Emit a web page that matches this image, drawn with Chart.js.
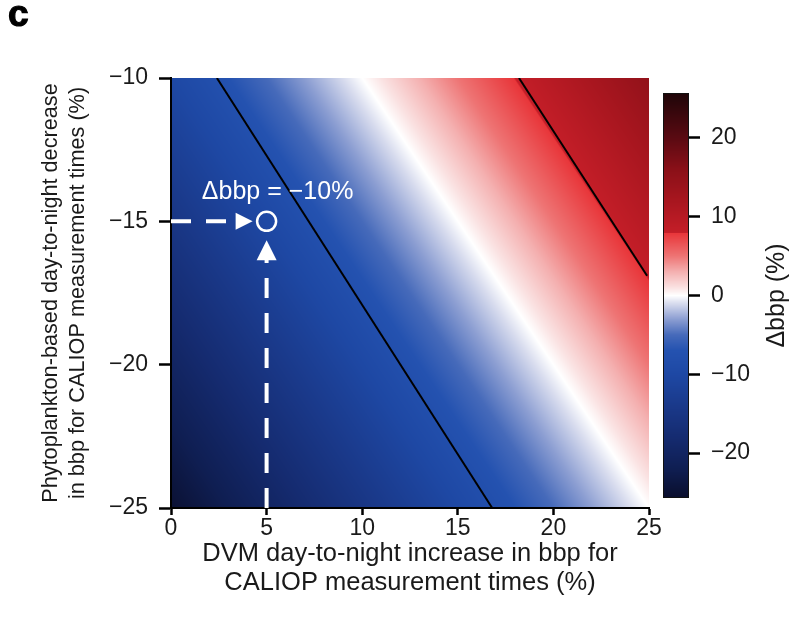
<!DOCTYPE html>
<html>
<head>
<meta charset="utf-8">
<script src="https://cdn.jsdelivr.net/npm/chart.js@4.4.1/dist/chart.umd.min.js"></script>
<style>
  body { margin: 0; background: #fff; }
  #wrap { position: relative; width: 798px; height: 623px; overflow: hidden; }
  #main { position: absolute; left: 0; top: 0; }
  #cbar { position: absolute; left: 650px; top: 0; }
  #panel { position: absolute; left: 8px; top: -7px; font: bold 37px "Liberation Sans", Arial, sans-serif;
           color: #000; -webkit-text-stroke: 1.2px #000; }
</style>
</head>
<body>
<div id="wrap">
  <canvas id="main" width="798" height="623"></canvas>
  <canvas id="cbar" width="148" height="623"></canvas>
  <div id="panel">c</div>
</div>
<script>
// axes
const dvmTicks = [0, 5, 10, 15, 20, 25];
const phytoTicks = [-10, -15, -20, -25];
const cbarTicks = [-20, -10, 0, 10, 20];

// Δbbp (%) on the grid nodes: rows follow phytoTicks, columns follow dvmTicks
const deltaBbp = [
  [-10, -5, 0, 5, 10, 15],
  [-15, -10, -5, 0, 5, 10],
  [-20, -15, -10, -5, 0, 5],
  [-25, -20, -15, -10, -5, 0]
];

// black contour lines
const lowLineDvm = [2.4, 16.8];
const lowLinePhyto = [-10, -25];
const highLineDvm = [18.2, 24.9];
const highLinePhyto = [-10, -16.9];

// highlighted example
const exampleDvm = 5;
const examplePhyto = -15;
const exampleText = 'Δbbp = −10%';

// diverging colour map (value -> rgb), with a step at +8
const cmapStops = [-25.7, -22, -18, -14, -10, -7, -5, -3, -1, 0, 1, 3, 5, 7.9, 8.0, 12, 16, 20, 25.7];
const cmapColors = [
  [10, 14, 44], [15, 30, 82], [21, 43, 112], [26, 57, 138], [30, 72, 164], [36, 82, 176],
  [70, 106, 186], [140, 158, 210], [216, 220, 238], [255, 255, 255], [250, 226, 226],
  [244, 176, 176], [238, 116, 116], [232, 54, 58], [196, 30, 40], [168, 22, 31],
  [138, 16, 24], [90, 10, 18], [30, 5, 8]
];

const FONT = '"Liberation Sans", Arial, Helvetica, sans-serif';
const INK = '#1a1a1a';

function colorFor(v) {
  if (v <= cmapStops[0]) return cmapColors[0];
  for (let k = 1; k < cmapStops.length; k++) {
    if (v <= cmapStops[k]) {
      const t = (v - cmapStops[k - 1]) / (cmapStops[k] - cmapStops[k - 1]);
      const a = cmapColors[k - 1], b = cmapColors[k];
      return [a[0] + (b[0] - a[0]) * t, a[1] + (b[1] - a[1]) * t, a[2] + (b[2] - a[2]) * t];
    }
  }
  return cmapColors[cmapColors.length - 1];
}

// bilinear lookup in the Δbbp table
function fieldAt(xv, yv) {
  let i = 0;
  while (i < dvmTicks.length - 2 && xv > dvmTicks[i + 1]) i++;
  let j = 0;
  while (j < phytoTicks.length - 2 && yv < phytoTicks[j + 1]) j++;
  const tx = (xv - dvmTicks[i]) / (dvmTicks[i + 1] - dvmTicks[i]);
  const ty = (yv - phytoTicks[j]) / (phytoTicks[j + 1] - phytoTicks[j]);
  const top = deltaBbp[j][i] + (deltaBbp[j][i + 1] - deltaBbp[j][i]) * tx;
  const bot = deltaBbp[j + 1][i] + (deltaBbp[j + 1][i + 1] - deltaBbp[j + 1][i]) * tx;
  return top + (bot - top) * ty;
}

const minus = v => String(v).replace('-', '\u2212');

const heatmap = {
  id: 'heatmap',
  beforeDraw(chart) {
    const { ctx, chartArea: a, scales: { x, y } } = chart;
    const left = Math.round(a.left), top = Math.round(a.top);
    const w = Math.round(a.right) - left, h = Math.round(a.bottom) - top;
    const img = ctx.createImageData(w, h);
    for (let j = 0; j < h; j++) {
      const yv = y.getValueForPixel(top + j + 0.5);
      for (let i = 0; i < w; i++) {
        const c = colorFor(fieldAt(x.getValueForPixel(left + i + 0.5), yv));
        const p = (j * w + i) * 4;
        img.data[p] = c[0]; img.data[p + 1] = c[1]; img.data[p + 2] = c[2]; img.data[p + 3] = 255;
      }
    }
    ctx.putImageData(img, left, top);
  }
};

// dashed arrows pointing at the example and its label
const arrows = {
  id: 'arrows',
  afterDatasetsDraw(chart) {
    const { ctx, chartArea: a, scales: { x, y } } = chart;
    const px = x.getPixelForValue(exampleDvm);
    const py = y.getPixelForValue(examplePhyto);
    ctx.save();
    ctx.strokeStyle = '#fff';
    ctx.fillStyle = '#fff';
    ctx.lineWidth = 4;
    ctx.setLineDash([20, 15]);
    // horizontal from the y axis
    ctx.beginPath();
    ctx.moveTo(a.left, py);
    ctx.lineTo(px - 30, py);
    ctx.stroke();
    // vertical from the x axis
    ctx.beginPath();
    ctx.moveTo(px, a.bottom);
    ctx.lineTo(px, py + 38);
    ctx.stroke();
    ctx.setLineDash([]);
    ctx.beginPath();
    ctx.moveTo(px - 14, py);
    ctx.lineTo(px - 31, py - 8.5);
    ctx.lineTo(px - 31, py + 8.5);
    ctx.closePath();
    ctx.fill();
    ctx.beginPath();
    ctx.moveTo(px, py + 19);
    ctx.lineTo(px - 10, py + 39);
    ctx.lineTo(px + 10, py + 39);
    ctx.closePath();
    ctx.fill();
    ctx.font = '25px ' + FONT;
    ctx.textAlign = 'center';
    ctx.textBaseline = 'alphabetic';
    ctx.fillText(exampleText, px + 11, py - 22);
    ctx.restore();
  }
};

const toPoints = (xs, ys) => xs.map((v, k) => ({ x: v, y: ys[k] }));

new Chart(document.getElementById('main'), {
  type: 'scatter',
  data: {
    datasets: [
      { data: toPoints(lowLineDvm, lowLinePhyto), showLine: true, borderColor: '#000', borderWidth: 2, pointRadius: 0 },
      { data: toPoints(highLineDvm, highLinePhyto), showLine: true, borderColor: '#000', borderWidth: 2, pointRadius: 0 },
      { data: [{ x: exampleDvm, y: examplePhyto }], pointRadius: 9.5, pointBorderWidth: 2.5,
        pointBorderColor: '#fff', pointBackgroundColor: 'rgba(0,0,0,0)' }
    ]
  },
  options: {
    responsive: false,
    animation: false,
    layout: { padding: { left: 0, top: 78, right: 149, bottom: 0 } },
    plugins: { legend: { display: false }, tooltip: { enabled: false } },
    scales: {
      x: {
        type: 'linear', min: 0, max: 25,
        afterBuildTicks: s => { s.ticks = dvmTicks.map(v => ({ value: v })); },
        afterFit: s => { s.height = 115; },
        border: { color: '#000', width: 2 },
        grid: { drawOnChartArea: false, tickLength: 7, tickWidth: 2.5, tickColor: '#000' },
        ticks: { color: INK, padding: 0, font: { family: FONT, size: 23 }, callback: v => minus(v) },
        title: {
          display: true, color: INK, font: { family: FONT, size: 25.5, lineHeight: 1.12 }, padding: { bottom: 26 },
          text: ['DVM day-to-night increase in bbp for', 'CALIOP measurement times (%)']
        }
      },
      y: {
        type: 'linear', min: -25, max: -10,
        afterBuildTicks: s => { s.ticks = phytoTicks.map(v => ({ value: v })); },
        afterFit: s => { s.width = 171; },
        border: { color: '#000', width: 2 },
        grid: { drawOnChartArea: false, tickLength: 12, tickWidth: 2.5, tickColor: '#000' },
        ticks: { color: INK, padding: 11, font: { family: FONT, size: 23 }, callback: v => minus(v) },
        title: {
          display: true, color: INK, font: { family: FONT, size: 21.7, lineHeight: 1.24 }, padding: { top: 38 },
          text: ['Phytoplankton-based day-to-night decrease', 'in bbp for CALIOP measurement times (%)']
        }
      }
    }
  },
  plugins: [heatmap, arrows]
});

// colour bar
const colorbar = {
  id: 'colorbar',
  beforeDraw(chart) {
    const { ctx, chartArea: a, scales: { y } } = chart;
    for (let py = Math.floor(a.top); py < Math.ceil(a.bottom); py++) {
      const c = colorFor(y.getValueForPixel(py + 0.5));
      ctx.fillStyle = `rgb(${c[0]},${c[1]},${c[2]})`;
      ctx.fillRect(a.left, py, a.right - a.left, 1);
    }
    ctx.strokeStyle = '#111';
    ctx.lineWidth = 1;
    ctx.strokeRect(a.left + 0.5, a.top + 0.5, a.right - a.left - 1, a.bottom - a.top - 1);
  },
  afterDraw(chart) {
    const { ctx, chartArea: a } = chart;
    ctx.save();
    ctx.translate(127, (a.top + a.bottom) / 2);
    ctx.rotate(-Math.PI / 2);
    ctx.font = '25px ' + FONT;
    ctx.fillStyle = INK;
    ctx.textAlign = 'center';
    ctx.textBaseline = 'middle';
    ctx.fillText('Δbbp (%)', 0, 0);
    ctx.restore();
  }
};

new Chart(document.getElementById('cbar'), {
  type: 'scatter',
  data: { datasets: [] },
  options: {
    responsive: false,
    animation: false,
    layout: { padding: { left: 13, top: 93, right: 0, bottom: 125 } },
    plugins: { legend: { display: false }, tooltip: { enabled: false } },
    scales: {
      x: { display: false, min: 0, max: 1 },
      y: {
        type: 'linear', position: 'right', min: -25.7, max: 25.7,
        afterBuildTicks: s => { s.ticks = cbarTicks.map(v => ({ value: v })); },
        afterFit: s => { s.width = 109; },
        border: { display: false },
        grid: { drawOnChartArea: false, tickLength: 11, tickWidth: 2.5, tickColor: '#000' },
        ticks: { color: INK, padding: 11, font: { family: FONT, size: 23 }, callback: v => minus(v) }
      }
    }
  },
  plugins: [colorbar]
});
</script>
</body>
</html>
